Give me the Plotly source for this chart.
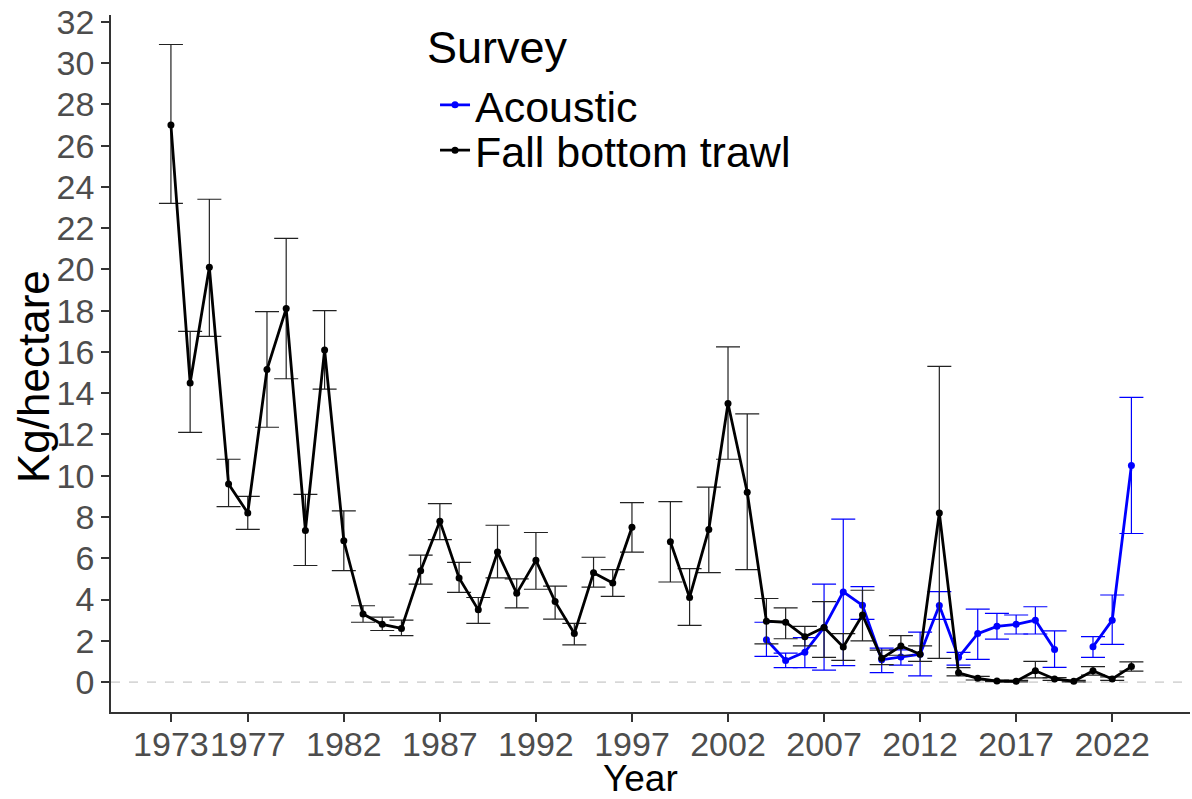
import plotly.graph_objects as go

# ---- Data ----
trawl_years = list(range(1973, 2024))
trawl_mean = [27.0, 14.5, 20.1, 9.6, 8.2, 15.15, 18.1, 7.35, 16.1, 6.85,
              3.3, 2.8, 2.6, 5.4, 7.8, 5.05, 3.5, 6.3, 4.3, 5.9,
              3.9, 2.35, 5.3, 4.8, 7.5, None, 6.8, 4.1, 7.4, 13.5,
              9.2, 2.95, 2.9, 2.2, 2.65, 1.7, 3.25, 1.15, 1.75, 1.35,
              8.2, 0.45, 0.18, 0.05, 0.04, 0.55, 0.15, 0.04, 0.55, 0.15,
              0.75]
trawl_lower = [23.2, 12.1, 16.75, 8.5, 7.4, 12.35, 14.7, 5.65, 14.2, 5.4,
               2.9, 2.5, 2.25, 4.75, 6.9, 4.35, 2.85, 5.05, 3.6, 4.5,
               3.05, 1.8, 4.6, 4.15, 6.3, None, 4.85, 2.75, 5.3, 10.8,
               5.45, 1.85, 2.1, 1.75, 1.2, 1.05, 2.0, 0.85, 1.3, 1.0,
               1.15, 0.3, 0.1, 0.02, 0.01, 0.2, 0.08, 0.01, 0.34, 0.08,
               0.53]
trawl_upper = [30.9, 17.0, 23.4, 10.8, 9.0, 17.95, 21.5, 9.1, 18.0, 8.3,
               3.7, 3.15, 3.0, 6.15, 8.65, 5.8, 4.1, 7.6, 5.0, 7.25,
               4.65, 2.85, 6.05, 5.45, 8.7, None, 8.75, 5.5, 9.45, 16.25,
               13.0, 4.05, 3.6, 2.7, 3.9, 2.35, 4.45, 1.55, 2.25, 1.75,
               15.3, 0.7, 0.28, 0.1, 0.08, 1.0, 0.22, 0.08, 0.75, 0.25,
               0.98]

acoustic_years = list(range(2004, 2024))
acoustic_mean = [2.05, 1.05, 1.45, 2.65, 4.37, 3.72, 1.08, 1.22, 1.35, 3.71,
                 1.2, 2.35, 2.7, 2.8, 3.0, 1.58, None, 1.71, 3.0, 10.5]
acoustic_lower = [1.25, 0.7, 0.7, 0.58, 0.8, 3.04, 0.46, 0.82, 0.3, 3.04,
                  0.82, 1.1, 2.08, 2.33, 2.33, 0.71, None, 1.2, 1.83, 7.2]
acoustic_upper = [2.9, 1.4, 2.15, 4.75, 7.9, 4.63, 1.65, 1.56, 2.42, 4.38,
                  1.44, 3.54, 3.33, 3.25, 3.65, 2.48, None, 2.2, 4.22, 13.8]

x_ticks = [1973, 1977, 1982, 1987, 1992, 1997, 2002, 2007, 2012, 2017, 2022]
y_ticks = list(range(0, 33, 2))


def err(mean, lo, hi):
    plus = [None if m is None else h - m for m, h in zip(mean, hi)]
    minus = [None if m is None else m - l for m, l in zip(mean, lo)]
    return plus, minus


FONT = "Liberation Sans, Arial, sans-serif"

fig = go.Figure()

a_plus, a_minus = err(acoustic_mean, acoustic_lower, acoustic_upper)
fig.add_trace(go.Scatter(
    x=acoustic_years, y=acoustic_mean, name="Acoustic",
    mode="lines+markers", legend="legend",
    line=dict(color="#0000FF", width=2.8),
    marker=dict(color="#0000FF", size=7),
    error_y=dict(type="data", symmetric=False, array=a_plus, arrayminus=a_minus,
                 color="#0000FF", thickness=1.2, width=12),
))

t_plus, t_minus = err(trawl_mean, trawl_lower, trawl_upper)
fig.add_trace(go.Scatter(
    x=trawl_years, y=trawl_mean, name="Fall bottom trawl",
    mode="lines+markers", legend="legend2",
    line=dict(color="#000000", width=2.8),
    marker=dict(color="#000000", size=7),
    error_y=dict(type="data", symmetric=False, array=t_plus, arrayminus=t_minus,
                 color="#222222", thickness=1.2, width=12),
))

fig.add_hline(y=0, line=dict(color="#BBBBBB", width=1, dash="dash"), layer="below")

# Axis titles and legend title as annotations for exact placement
fig.add_annotation(text="Year", xref="paper", yref="paper", x=0.491, y=-0.0947,
                   xanchor="center", yanchor="middle", showarrow=False,
                   font=dict(size=37, family=FONT, color="black"))
fig.add_annotation(text="Kg/hectare", xref="paper", yref="paper", x=-0.0723, y=0.482,
                   xanchor="center", yanchor="middle", showarrow=False, textangle=-90,
                   font=dict(size=44, family=FONT, color="black"))
fig.add_annotation(text="Survey", xref="paper", yref="paper", x=0.291, y=0.954,
                   xanchor="left", yanchor="middle", showarrow=False,
                   font=dict(size=45, family=FONT, color="black"))

legend_style = dict(
    font=dict(size=43, family=FONT, color="black"),
    xanchor="left", yanchor="middle",
    bgcolor="rgba(0,0,0,0)", itemwidth=30,
)

fig.update_layout(
    width=1192, height=799,
    margin=dict(l=111, r=2, t=15, b=87, autoexpand=False),
    paper_bgcolor="white", plot_bgcolor="white",
    font=dict(family=FONT, color="black"),
    showlegend=True,
    legend=dict(x=0.3003, y=0.871, **legend_style),
    legend2=dict(x=0.3003, y=0.806, **legend_style),
    xaxis=dict(
        range=[1969.88, 2026.05], tickmode="array", tickvals=x_ticks,
        ticktext=[str(v) for v in x_ticks], tickangle=0,
        showgrid=False, zeroline=False, automargin=False,
        showline=True, linecolor="#333333", linewidth=1.5,
        ticks="outside", ticklen=8, tickwidth=2, tickcolor="#333333",
        tickfont=dict(size=34, family=FONT, color="#4D4D4D"),
        ticklabeloverflow="allow", ticklabelstandoff=-7,
    ),
    yaxis=dict(
        range=[-1.45, 32.33], tickmode="array", tickvals=y_ticks,
        showgrid=False, zeroline=False, automargin=False,
        showline=True, linecolor="#333333", linewidth=1.5,
        ticks="outside", ticklen=8, tickwidth=2, tickcolor="#333333",
        tickfont=dict(size=34, family=FONT, color="#4D4D4D"),
        ticklabeloverflow="allow",
    ),
)

# remove the default 8px page margin so the figure sits at the window's corner
fig.write_html("out.html", config={"displayModeBar": False},
               post_script="document.body.style.margin='0';")
